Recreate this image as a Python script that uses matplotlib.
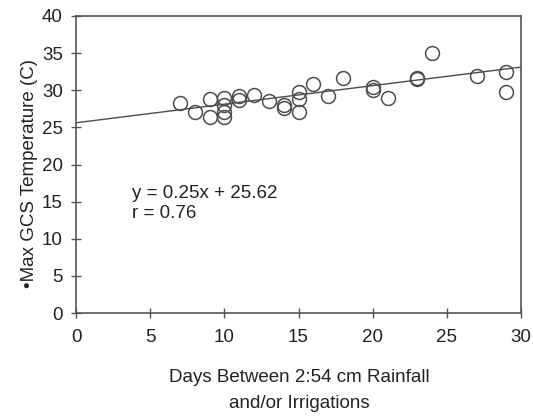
import matplotlib

matplotlib.use("Agg")
import matplotlib.pyplot as plt
import numpy as np

plt.rcParams["font.family"] = ["Liberation Sans", "DejaVu Sans"]

# days between 2.54 cm rainfall and/or irrigations vs max GCS temperature
days = [7, 8, 9, 9, 10, 10, 10, 10, 11, 11, 12, 13, 14, 14, 15, 15, 15,
        16, 17, 18, 20, 20, 21, 23, 23, 24, 27, 29, 29]
max_temp = [28.3, 27.1, 28.8, 26.4, 28.9, 28.0, 27.1, 26.4, 29.2, 28.7, 29.3,
            28.6, 28.0, 27.6, 29.8, 28.8, 27.1, 30.8, 29.2, 31.7, 30.1, 30.4,
            29.0, 31.5, 31.7, 35.0, 31.9, 32.5, 29.7]

slope = 0.25
intercept = 25.62
r_value = 0.76

xticks = [0, 5, 10, 15, 20, 25, 30]
yticks = [0, 5, 10, 15, 20, 25, 30, 35, 40]

W, H = 533, 417
fig = plt.figure(figsize=(W / 100, H / 100), dpi=100)
ax = fig.add_axes([76 / W, 1 - 313 / H, 445 / W, 297 / H])

fit_x = np.array([0, 30])
ax.plot(fit_x, slope * fit_x + intercept, color="#4a4a4a", lw=1.0, zorder=2)
ax.plot(days, max_temp, "o", mfc="none", mec="#4d4d4d", mew=1.1, ms=10, zorder=3)

ax.text(3.75, 14.75, f"y = {slope:.2f}x + {intercept:.2f}\nr = {r_value:.2f}",
        fontsize=13.5, va="center", ha="left", linespacing=1.25, color="#222222")

ax.set_xlim(0, 30)
ax.set_ylim(0, 40)
ax.set_xticks(xticks)
ax.set_yticks(yticks)
ax.tick_params(direction="inout", length=7, width=1, colors="#555555",
               labelcolor="#222222", labelsize=13.5)
ax.tick_params(axis="x", pad=8)
ax.tick_params(axis="y", pad=6)
for s in ax.spines.values():
    s.set_color("#555555")
    s.set_linewidth(1.2)

fig.text(30 / W, 1 - 173 / H, "•Max GCS Temperature (C)", rotation=90,
         ha="center", va="center", fontsize=13.5, color="#222222")
fig.text(299 / W, 1 - 390.5 / H, "Days Between 2:54 cm Rainfall\nand/or Irrigations",
         ha="center", va="center", fontsize=13.5, color="#222222", linespacing=1.65)

fig.savefig("out.png", dpi=100)
